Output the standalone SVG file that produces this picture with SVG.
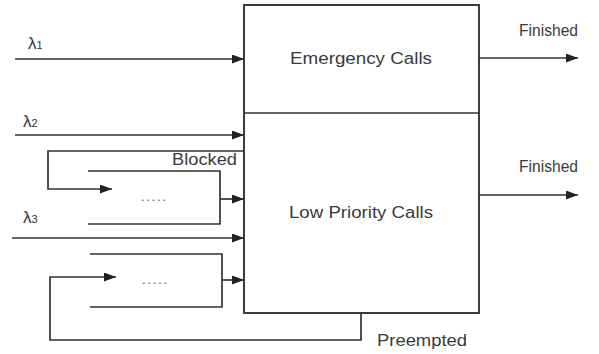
<svg xmlns="http://www.w3.org/2000/svg" width="599" height="354" viewBox="0 0 599 354">
<style>
.ln{fill:none;stroke:#333;stroke-width:1.7}
.bx{fill:#fff;stroke:#333;stroke-width:1.9}
.t{font-family:"Liberation Sans",Arial,sans-serif;font-size:16px;fill:#3a3a3a}
.lam{font-family:"Liberation Sans",Arial,sans-serif;font-size:17px;fill:#333}
.dots{font-family:"Liberation Sans",Arial,sans-serif;font-size:12px;fill:#888}
</style>
<defs>
<marker id="ah" markerWidth="12" markerHeight="9" refX="12" refY="4.5" orient="auto" markerUnits="userSpaceOnUse">
<path d="M0,0 L12,4.5 L0,9 z" fill="#222"/>
</marker>
</defs>
<rect width="599" height="354" fill="#fff"/>
<g id="system">
<rect class="bx" x="244" y="5" width="235" height="308"/>
<line class="ln" x1="244" y1="113" x2="479" y2="113"/>
</g>
<g id="emergency">
<text class="t" x="361" y="64" text-anchor="middle" textLength="142" lengthAdjust="spacingAndGlyphs">Emergency Calls</text>
</g>
<g id="lowpriority">
<text class="t" x="361" y="218" text-anchor="middle" textLength="144" lengthAdjust="spacingAndGlyphs">Low Priority Calls</text>
</g>
<g id="queue1">
<polyline class="ln" points="88,171 220,171 220,224 88,224"/>
<text class="dots" x="140" y="201" textLength="27" lengthAdjust="spacingAndGlyphs">.....</text>
</g>
<g id="queue2">
<polyline class="ln" points="90,254 222,254 222,307 90,307"/>
<text class="dots" x="141" y="284" textLength="27" lengthAdjust="spacingAndGlyphs">.....</text>
</g>
<g id="connectors">
<line class="ln" x1="15" y1="59" x2="244" y2="59" marker-end="url(#ah)"/>
<line class="ln" x1="15" y1="135" x2="244" y2="135" marker-end="url(#ah)"/>
<line class="ln" x1="12" y1="238" x2="244" y2="238" marker-end="url(#ah)"/>
<polyline class="ln" points="244,151 48,151 48,189 112,189" marker-end="url(#ah)"/>
<line class="ln" x1="220" y1="199" x2="244" y2="199" stroke-width="2.8" marker-end="url(#ah)"/>
<line class="ln" x1="222" y1="280" x2="244" y2="280" marker-end="url(#ah)"/>
<polyline class="ln" points="361,313 361,340 50,340 50,277 116,277" marker-end="url(#ah)"/>
<line class="ln" x1="479" y1="58" x2="578" y2="58" marker-end="url(#ah)"/>
<line class="ln" x1="479" y1="195" x2="578" y2="195" marker-end="url(#ah)"/>
</g>
<g id="labels">
<text class="lam" x="28" y="49">λ<tspan font-size="11">1</tspan></text>
<text class="lam" x="23" y="127">λ<tspan font-size="11">2</tspan></text>
<text class="lam" x="23" y="223">λ<tspan font-size="11">3</tspan></text>
<text class="t" x="237" y="165" text-anchor="end" textLength="65" lengthAdjust="spacingAndGlyphs">Blocked</text>
<text class="t" x="519" y="36" textLength="59" lengthAdjust="spacingAndGlyphs">Finished</text>
<text class="t" x="519" y="172" textLength="59" lengthAdjust="spacingAndGlyphs">Finished</text>
<text class="t" x="377" y="346" textLength="90" lengthAdjust="spacingAndGlyphs">Preempted</text>
</g>
</svg>
